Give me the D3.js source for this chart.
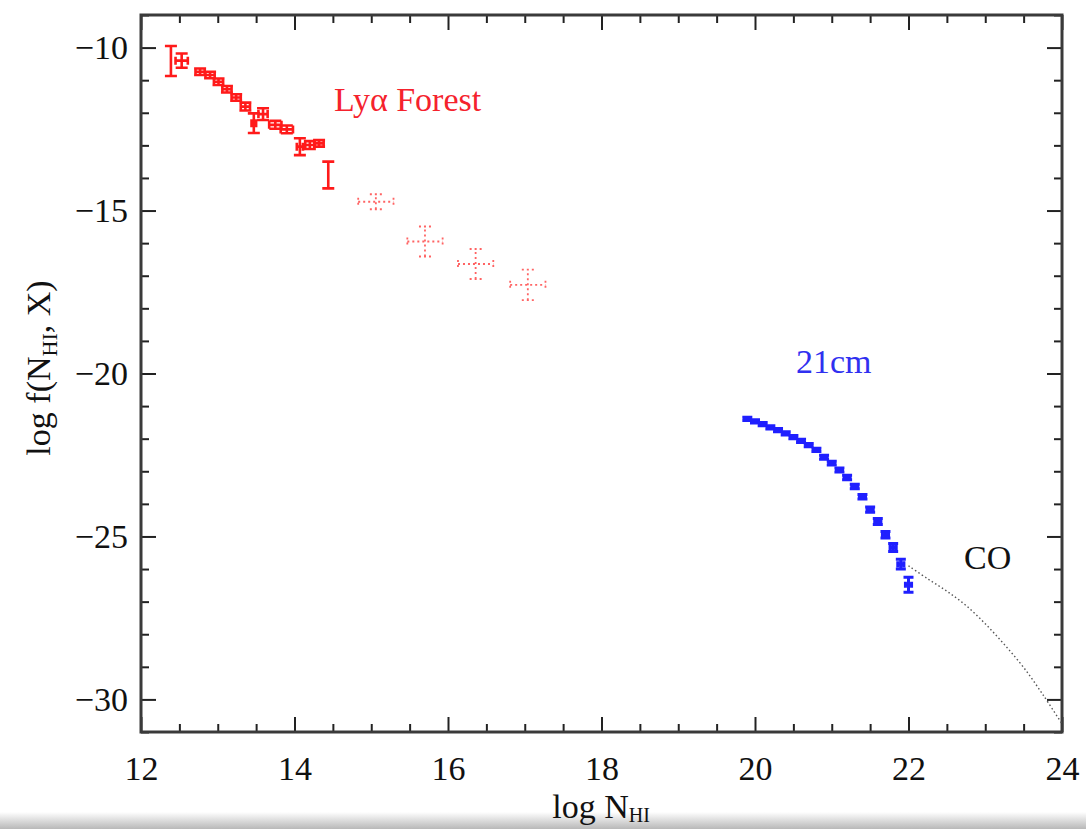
<!DOCTYPE html>
<html lang="en">
<head>
    <meta charset="UTF-8">
    <title>Column density distribution</title>
    <script src="https://d3js.org/d3.v7.min.js"></script>
    <style>
        body { margin: 0; background: #fff; }
        svg { display: block; }
        .tick text { font-family: "Liberation Serif", "DejaVu Serif", serif; font-size: 34px; fill: #111; }
        .tick line { stroke: #222; stroke-width: 2px; }
        .frame { fill: none; stroke: #3a3a3a; stroke-width: 3px; }
        .label { font-family: "Liberation Serif", "DejaVu Serif", serif; font-size: 34px; }
    </style>
</head>
<body>
<svg id="chart" width="1086" height="829"></svg>
<script>
    // Lya forest (solid error bars)
    const lyaN    = [12.39, 12.53, 12.77, 12.90, 13.01, 13.12, 13.24, 13.36, 13.47, 13.59, 13.75, 13.90, 14.07, 14.20, 14.32, 14.44];
    const lyaF    = [-10.41, -10.40, -10.74, -10.84, -11.05, -11.28, -11.53, -11.81, -12.32, -12.04, -12.37, -12.51, -13.04, -12.99, -12.94, -13.91];
    const lyaFerr = [0.46, 0.22, 0.10, 0.10, 0.10, 0.10, 0.10, 0.12, 0.30, 0.18, 0.12, 0.12, 0.26, 0.12, 0.10, 0.41];
    const lyaNerr = [0, 0.08, 0.06, 0.06, 0.06, 0.06, 0.06, 0.06, 0.03, 0.06, 0.08, 0.08, 0.04, 0.06, 0.06, 0];

    // Lya forest, high column bins (dotted error bars)
    const lyaHiN    = [15.06, 15.70, 16.36, 17.04];
    const lyaHiF    = [-14.73, -15.95, -16.64, -17.28];
    const lyaHiFerr = [0.23, 0.46, 0.46, 0.47];
    const lyaHiNerr = [0.23, 0.23, 0.23, 0.23];

    // 21cm
    const hiN    = [19.9, 20.0, 20.1, 20.2, 20.3, 20.4, 20.5, 20.6, 20.7, 20.8, 20.9, 21.0, 21.1, 21.2, 21.3, 21.4, 21.5, 21.6, 21.7, 21.8, 21.9, 22.0];
    const hiF    = [-21.39, -21.47, -21.55, -21.65, -21.74, -21.84, -21.95, -22.07, -22.20, -22.34, -22.57, -22.75, -22.96, -23.19, -23.47, -23.78, -24.18, -24.54, -24.95, -25.34, -25.85, -26.48];
    const hiFerr = [0.05, 0.05, 0.05, 0.05, 0.05, 0.05, 0.05, 0.05, 0.05, 0.05, 0.06, 0.06, 0.06, 0.07, 0.07, 0.07, 0.08, 0.09, 0.10, 0.12, 0.15, 0.23];

    // CO curve
    const coN = [22.0, 22.25, 22.5, 22.75, 23.0, 23.25, 23.5, 23.75, 24.0];
    const coF = [-25.9, -26.3, -26.68, -27.12, -27.68, -28.32, -29.02, -29.85, -30.75];

    // axes
    const xMajor = [12, 14, 16, 18, 20, 22, 24];
    const xMinor = d3.range(12.5, 24, 0.5).filter(v => v % 2 !== 0);
    const yMajor = [-30, -25, -20, -15, -10];
    const yMinor = d3.range(-31, -8, 1).filter(v => v % 5 !== 0);

    const svg = d3.select("#chart");
    const plotLeft = 141, plotRight = 1062, plotTop = 15, plotBottom = 732;

    const x = d3.scaleLinear().domain([12, 24]).range([plotLeft, plotRight]);
    const y = d3.scaleLinear().domain([-31, -9]).range([plotBottom, plotTop]);

    // grey strip at the bottom of the screenshot
    const defs = svg.append("defs");
    const grad = defs.append("linearGradient").attr("id", "strip")
        .attr("x1", 0).attr("y1", 0).attr("x2", 0).attr("y2", 1);
    grad.append("stop").attr("offset", "0%").attr("stop-color", "#ffffff");
    grad.append("stop").attr("offset", "100%").attr("stop-color", "#b8b8b8");
    svg.append("rect").attr("x", 0).attr("y", 812).attr("width", 1086).attr("height", 17)
        .attr("fill", "url(#strip)");

    // ticks (inward on all sides)
    function ticks(axis, vals, size, tx, ty, labels, pad) {
        const a = axis.tickValues(vals).tickSize(-size).tickPadding(pad || 3);
        if (!labels) a.tickFormat("");
        const g = svg.append("g").attr("transform", `translate(${tx},${ty})`).call(a);
        g.select(".domain").remove();
        return g;
    }
    const fmt = d => d < 0 ? "\u2212" + Math.abs(d) : d;
    ticks(d3.axisBottom(x).tickFormat(fmt), xMajor, 15, 0, plotBottom, true, 24);
    ticks(d3.axisBottom(x), xMinor, 8, 0, plotBottom, false);
    ticks(d3.axisTop(x), xMajor, 15, 0, plotTop, false);
    ticks(d3.axisTop(x), xMinor, 8, 0, plotTop, false);
    ticks(d3.axisLeft(y).tickFormat(fmt), yMajor, 15, plotLeft, 0, true, 13);
    ticks(d3.axisLeft(y), yMinor, 8, plotLeft, 0, false);
    ticks(d3.axisRight(y), yMajor, 15, plotRight, 0, false);
    ticks(d3.axisRight(y), yMinor, 8, plotRight, 0, false);

    svg.append("rect").attr("class", "frame")
        .attr("x", plotLeft).attr("y", plotTop)
        .attr("width", plotRight - plotLeft).attr("height", plotBottom - plotTop);

    // error bar helper
    function errorBars(ns, fs, ferr, nerr, opts) {
        const g = svg.append("g")
            .attr("stroke", opts.color)
            .attr("stroke-width", opts.width)
            .attr("stroke-dasharray", opts.dash || null)
            .attr("opacity", opts.opacity || 1)
            .attr("fill", "none");
        ns.forEach((n, i) => {
            const cx = x(n), cy = y(fs[i]);
            const y0 = y(fs[i] - ferr[i]), y1 = y(fs[i] + ferr[i]);
            const p = d3.path();
            p.moveTo(cx, y0); p.lineTo(cx, y1);
            p.moveTo(cx - opts.cap, y0); p.lineTo(cx + opts.cap, y0);
            p.moveTo(cx - opts.cap, y1); p.lineTo(cx + opts.cap, y1);
            const xe = nerr ? nerr[i] : 0;
            if (xe > 0) {
                const x0 = x(n - xe), x1 = x(n + xe);
                p.moveTo(x0, cy); p.lineTo(x1, cy);
                p.moveTo(x0, cy - opts.hcap); p.lineTo(x0, cy + opts.hcap);
                p.moveTo(x1, cy - opts.hcap); p.lineTo(x1, cy + opts.hcap);
            }
            g.append("path").attr("d", p.toString());
        });
    }

    errorBars(lyaN, lyaF, lyaFerr, lyaNerr, { color: "#ff1a1a", width: 2.6, cap: 6, hcap: 4 });
    errorBars(lyaHiN, lyaHiF, lyaHiFerr, lyaHiNerr, { color: "#ff3030", width: 1.8, cap: 6, hcap: 4, dash: "2,3", opacity: 0.75 });
    errorBars(hiN, hiF, hiFerr, hiN.map(() => 0.04), { color: "#1f1fff", width: 3, cap: 5, hcap: 3 });

    // CO model curve
    svg.append("path")
        .datum(coN.map((n, i) => [n, coF[i]]))
        .attr("fill", "none")
        .attr("stroke", "#555")
        .attr("stroke-width", 1.4)
        .attr("stroke-dasharray", "1.5,2.5")
        .attr("d", d3.line().x(d => x(d[0])).y(d => y(d[1])).curve(d3.curveCatmullRom));

    // in-plot labels
    svg.append("text").attr("class", "label").attr("x", 334).attr("y", 111)
        .attr("fill", "#f5222d").text("Ly\u03b1 Forest");
    svg.append("text").attr("class", "label").attr("x", 796).attr("y", 373)
        .attr("fill", "#3030f0").text("21cm");
    svg.append("text").attr("class", "label").attr("x", 964).attr("y", 569)
        .attr("fill", "#111").text("CO");

    // axis titles
    const xt = svg.append("text").attr("class", "label").attr("x", 601).attr("y", 818)
        .attr("text-anchor", "middle").attr("fill", "#111");
    xt.append("tspan").text("log N");
    xt.append("tspan").attr("font-size", "20px").attr("dy", 4).text("HI");

    const yt = svg.append("text").attr("class", "label")
        .attr("transform", "translate(50,368) rotate(-90)")
        .attr("text-anchor", "middle").attr("fill", "#111");
    yt.append("tspan").text("log f(N");
    yt.append("tspan").attr("font-size", "22px").attr("dy", 7).text("HI");
    yt.append("tspan").attr("dy", -7).text(", X)");
</script>
</body>
</html>
